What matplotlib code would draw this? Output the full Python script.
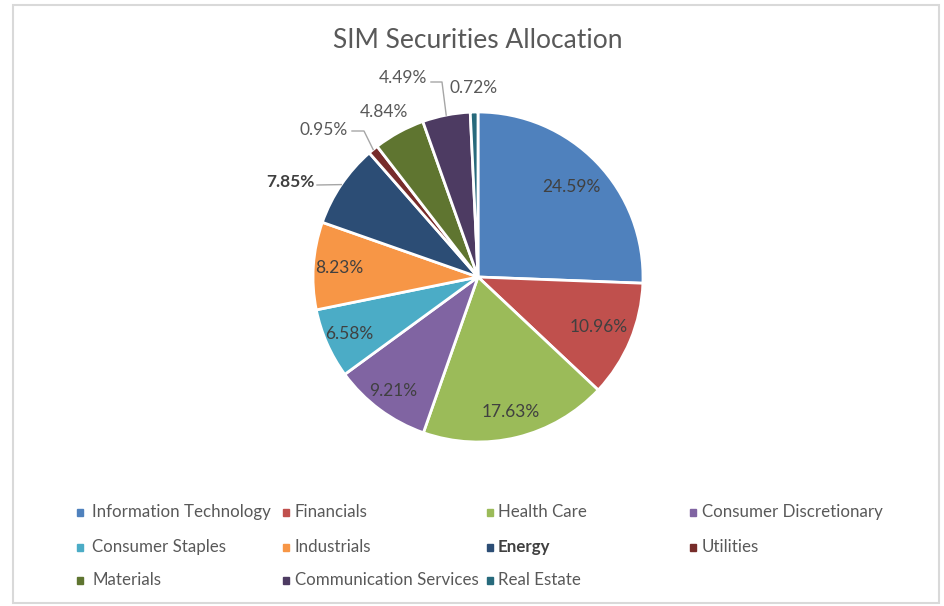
import numpy as np
import matplotlib
matplotlib.use('Agg')
import matplotlib.pyplot as plt
from matplotlib.patches import Rectangle

# sector weights of the portfolio (in %)
sectors = ['Information Technology', 'Financials', 'Health Care', 'Consumer Discretionary',
           'Consumer Staples', 'Industrials', 'Energy', 'Utilities',
           'Materials', 'Communication Services', 'Real Estate']
weights = [24.59, 10.96, 17.63, 9.21, 6.58, 8.23, 7.85, 0.95, 4.84, 4.49, 0.72]
colors = ['#4F81BD', '#C0504D', '#9BBB59', '#8064A2', '#4BACC6', '#F79646',
          '#2C4D75', '#772C2A', '#5F7530', '#4D3B62', '#276A7C']

plt.rcParams['font.family'] = ['Lato', 'DejaVu Sans']

W, H = 945, 606
fig = plt.figure(figsize=(W / 100, H / 100), dpi=100)
ax = fig.add_axes([0, 0, 1, 1])

# work in pixel-like units, y measured from the top
cx, cy, R = 478, 277, 165
wedges, _ = ax.pie(weights, colors=colors, startangle=90, counterclock=False,
                   center=(cx, H - cy), radius=R,
                   wedgeprops=dict(edgecolor='white', linewidth=2.0))
ax.set_xlim(0, W)
ax.set_ylim(0, H)
ax.set_aspect('equal')
ax.axis('off')

def edge_point(w, frac=1.0):
    mid = np.deg2rad((w.theta1 + w.theta2) / 2)
    return cx + frac * R * np.cos(mid), (H - cy) + frac * R * np.sin(mid)

# labels inside the larger slices
inner = {0: 0.79, 1: 0.79, 2: 0.84, 3: 0.86, 4: 0.85, 5: 0.84}
for i, f in inner.items():
    x, y = edge_point(wedges[i], f)
    ax.text(x, y, f'{weights[i]:.2f}%', ha='center', va='center',
            fontsize=12.5, color='#404040')

# labels outside the thin slices (text position in px from top-left)
outer = {6: (290, 182, True), 7: (324, 130, False), 8: (384, 112, False),
         9: (403, 78, False), 10: (474, 88, False)}
for i, (tx, ty, bold) in outer.items():
    ax.text(tx, H - ty, f'{weights[i]:.2f}%', ha='center', va='center', fontsize=12.5,
            color='#404040' if bold else '#595959',
            fontweight='bold' if bold else 'normal')

# leader lines
lc = '#A6A6A6'
ex, ey = edge_point(wedges[6])
ax.plot([317, ex], [H - 185, ey], color=lc, lw=1)
ex, ey = edge_point(wedges[7])
ax.plot([352, 364, ex], [H - 131, H - 131, ey], color=lc, lw=1)
ex, ey = edge_point(wedges[9])
ax.plot([431, 442, ex], [H - 82, H - 82, ey], color=lc, lw=1)

ax.text(478, H - 41, 'SIM Securities Allocation', ha='center', va='center',
        fontsize=19, color='#595959')

# legend, four columns
mark_x = [80, 286, 490, 693]
text_x = [92, 295, 498, 702]
row_y = [512, 547, 580]
for i, name in enumerate(sectors):
    c, r = i % 4, i // 4
    my = row_y[r]
    ax.add_patch(Rectangle((mark_x[c] - 3, H - my - 3.5), 6, 7, color=colors[i]))
    ax.text(text_x[c], H - my, name, ha='left', va='center', fontsize=12.2,
            color='#404040' if name == 'Energy' else '#595959',
            fontweight='bold' if name == 'Energy' else 'normal')

# chart border
ax.add_patch(Rectangle((13, H - 603), 926, 598, fill=False, edgecolor='#D9D9D9', lw=1.5))

fig.savefig('out.png', dpi=100, facecolor='white')
